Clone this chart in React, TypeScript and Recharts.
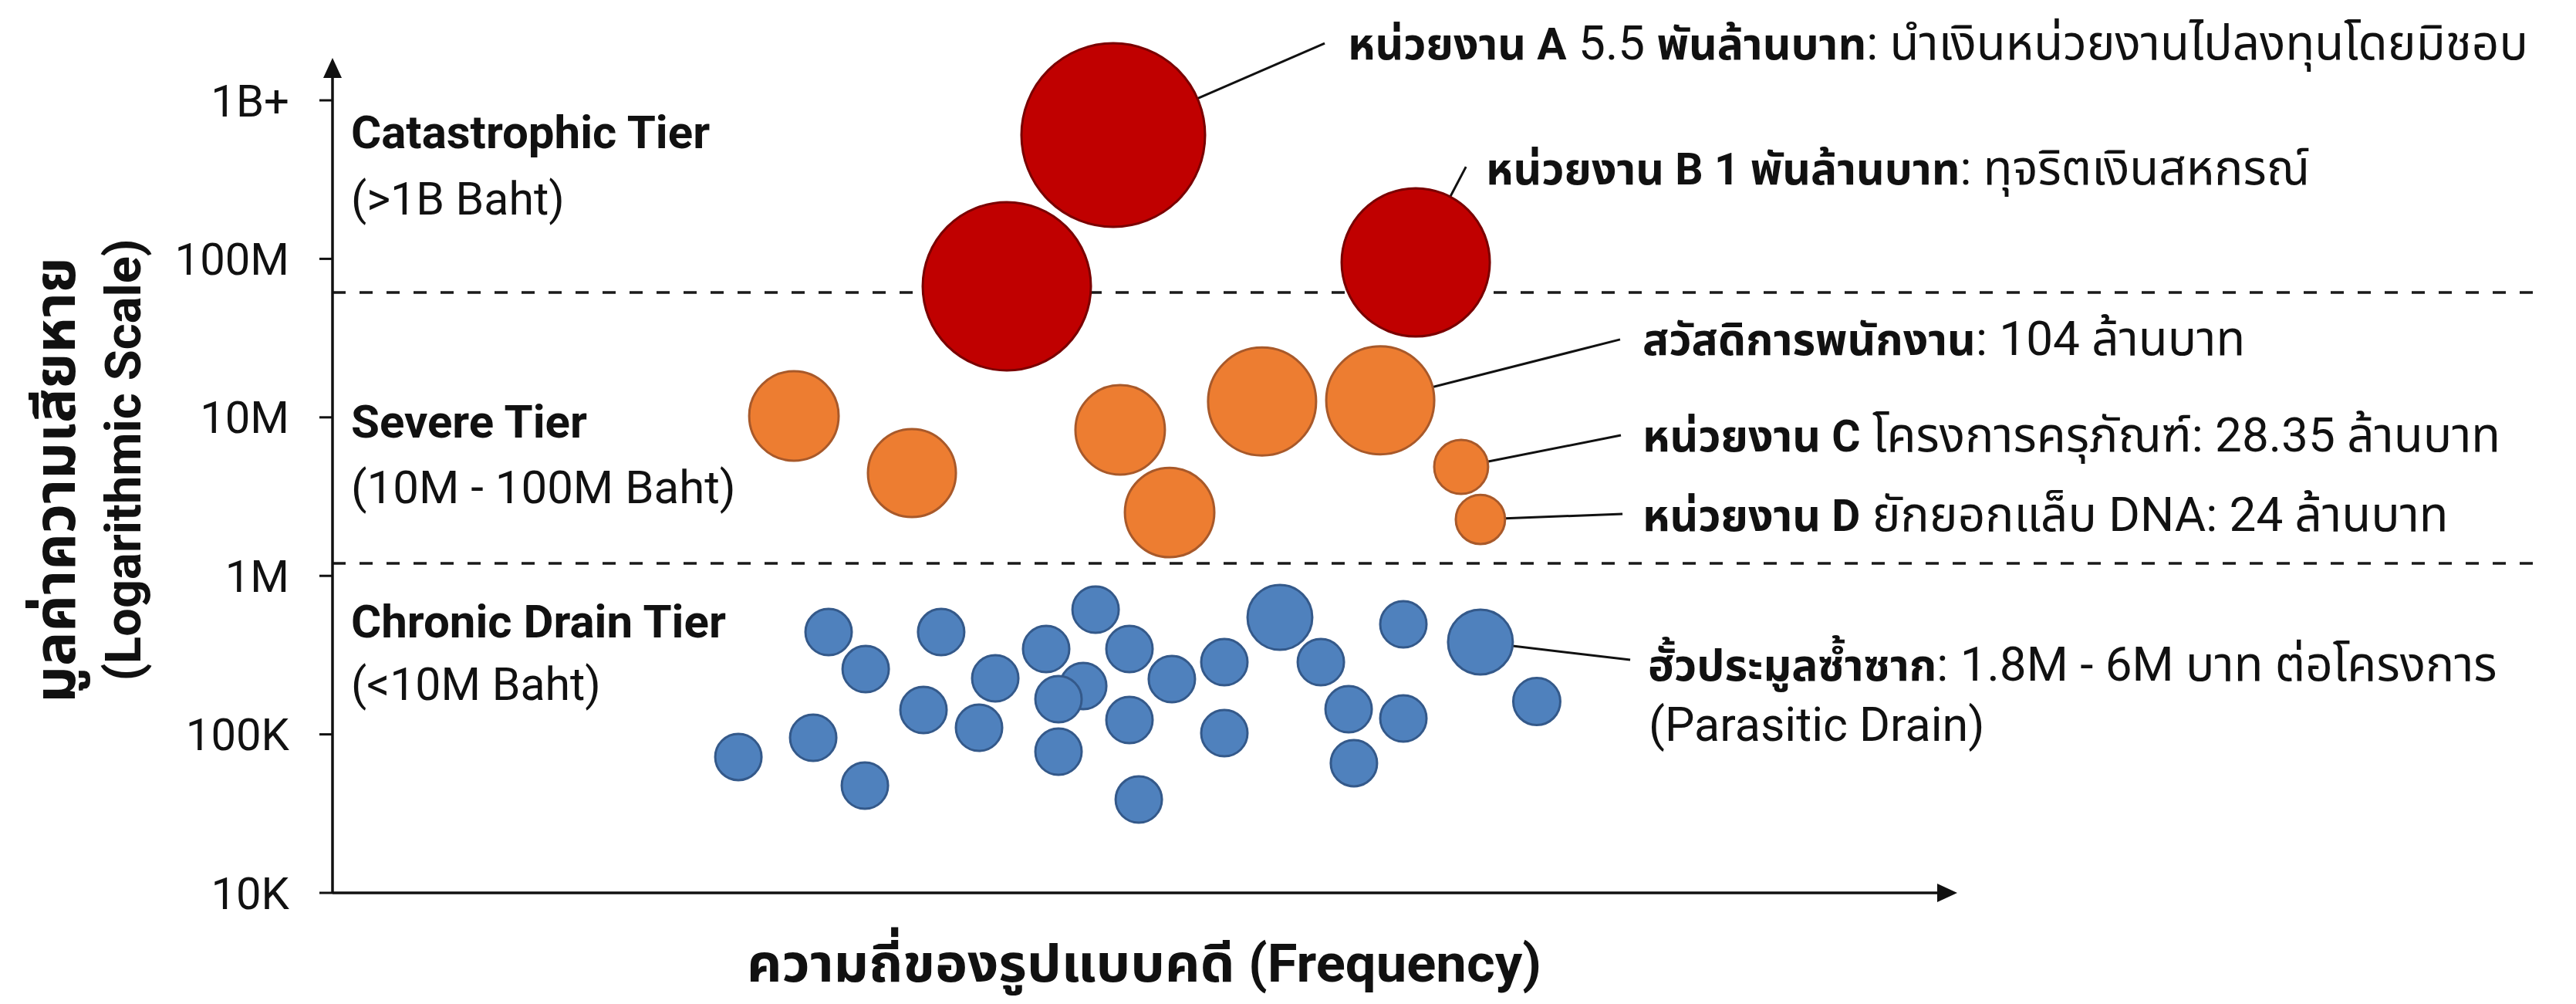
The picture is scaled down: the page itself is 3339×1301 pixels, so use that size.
import React from 'react';
import { ScatterChart, Scatter, XAxis, YAxis, ZAxis, ReferenceLine } from 'recharts';

const W = 3339;
const H = 1301;
const FONT = "Roboto, 'Noto Sans Thai', 'Noto Sans', sans-serif";
const INK = '#111111';

// x: relative case frequency (0-100), y: damage in baht (log scale), z: bubble weight
const catastrophicX = [42.0, 48.63, 67.47];
const catastrophicY = [67100000, 604000000, 95000000];
const catastrophicZ = [118.8, 141.6, 92.2];

const severeX = [28.74, 36.09, 49.06, 52.14, 57.9, 65.26, 70.3, 71.5];
const severeY = [10200000, 4450000, 8340000, 2510000, 12600000, 12800000, 4870000, 2270000];
const severeZ = [33.6, 32.5, 33.6, 33.6, 49, 49, 12.2, 10.2];

const chronicX = [
  25.28, 29.94, 30.9, 33.21, 33.16, 37.91, 36.81, 41.28, 40.27, 44.45, 46.76, 45.22, 45.22, 47.53,
  49.64, 49.64, 50.22, 52.28, 55.55, 55.55, 59.01, 61.56, 63.29, 63.62, 66.7, 66.7, 71.5, 75.01,
];
const chronicY = [
  72000, 95200, 442000, 258000, 47500, 442000, 142500, 225700, 110100, 345500, 201700, 166700, 77800,
  612000, 345500, 123200, 38800, 223200, 285600, 101800, 547000, 285600, 144100, 65800, 494700,
  126000, 382300, 161200,
];
const chronicZ = [
  9, 9, 9, 9, 9, 9, 9, 9, 9, 9, 9, 9, 9, 9, 9, 9, 9, 9, 9, 9, 17.6, 9, 9, 9, 9, 9, 17.6, 9.3,
];

const yTicks = [10000, 100000, 1000000, 10000000, 100000000, 1000000000];
const yTickLabels = ['10K', '100K', '1M', '10M', '100M', '1B+'];

// tier boundaries (baht)
const tierLines = [61400000, 1200000];

// leader lines: [bubble x, bubble y] -> [label x, label y]
const leaderFrom = [
  [48.63, 604000000],
  [67.47, 95000000],
  [65.26, 12800000],
  [70.3, 4870000],
  [71.5, 2270000],
  [71.5, 382300],
];
const leaderTo = [
  [61.8, 2290000000],
  [70.6, 381000000],
  [80.2, 31000000],
  [80.25, 7710000],
  [80.35, 2460000],
  [80.83, 295000],
];

const toPoints = (xs: number[], ys: number[], zs: number[]) =>
  xs.map((x, i) => ({ x, y: ys[i], z: zs[i] }));

const catastrophic = toPoints(catastrophicX, catastrophicY, catastrophicZ);
const severe = toPoints(severeX, severeY, severeZ);
const chronic = toPoints(chronicX, chronicY, chronicZ);

const bubble = (fill: string, stroke: string) => (props: any) => {
  const { cx, cy, width, size } = props;
  const r = width ? width / 2 : Math.sqrt((size || 0) / Math.PI);
  return <circle cx={cx} cy={cy} r={r} fill={fill} stroke={stroke} strokeWidth={3} />;
};

const Txt = ({ x, y, size = 62, bold = false, anchor = 'start', children }: any) => (
  <text
    x={x}
    y={y}
    fontSize={size}
    fontFamily={FONT}
    fontWeight={bold ? 700 : 400}
    textAnchor={anchor}
    fill={INK}
  >
    {children}
  </text>
);

const B = ({ children }: any) => (
  <tspan fontWeight={700} fontSize={57}>
    {children}
  </tspan>
);

export default function App() {
  return (
    <div style={{ position: 'absolute', left: 0, top: 0, width: W, height: H, background: '#fff' }}>
      <svg width={0} height={0} style={{ position: 'absolute' }}>
        <defs>
          <marker
            id="arrowHead"
            viewBox="0 0 26 24"
            refX={1}
            refY={12}
            markerWidth={26}
            markerHeight={24}
            markerUnits="userSpaceOnUse"
            orient="auto-start-reverse"
          >
            <path d="M0,0 L26,12 L0,24 z" fill={INK} />
          </marker>
        </defs>
      </svg>

      <ScatterChart width={W} height={H} margin={{ top: 100, right: 827, bottom: 143, left: 371 }}>
        <XAxis
          type="number"
          dataKey="x"
          domain={[0, 100]}
          tick={false}
          tickLine={false}
          height={1}
          axisLine={{ stroke: INK, strokeWidth: 3.5, markerEnd: 'url(#arrowHead)' }}
        />
        <YAxis
          type="number"
          dataKey="y"
          scale="log"
          domain={[10000, 1400000000]}
          ticks={yTicks}
          interval={0}
          tickFormatter={(v: number) => yTickLabels[yTicks.indexOf(v)] ?? ''}
          width={60}
          tickSize={17}
          tickMargin={39}
          tick={{ fill: INK, fontSize: 58, fontFamily: FONT }}
          tickLine={{ stroke: INK, strokeWidth: 3 }}
          axisLine={{ stroke: INK, strokeWidth: 3.5, markerStart: 'url(#arrowHead)' }}
        />
        <ZAxis type="number" dataKey="z" domain={[0, 200]} range={[0, 62832]} />

        {tierLines.map((v) => (
          <ReferenceLine
            key={v}
            segment={[
              { x: 0, y: v },
              { x: 137.5, y: v },
            ]}
            ifOverflow="visible"
            stroke="#1a1a1a"
            strokeWidth={3.5}
            strokeDasharray="17 18"
          />
        ))}
        {leaderFrom.map((p, i) => (
          <ReferenceLine
            key={'l' + i}
            segment={[
              { x: p[0], y: p[1] },
              { x: leaderTo[i][0], y: leaderTo[i][1] },
            ]}
            ifOverflow="visible"
            stroke={INK}
            strokeWidth={3}
          />
        ))}

        <Scatter data={chronic} shape={bubble('#4F81BD', '#34598A')} isAnimationActive={false} />
        <Scatter data={severe} shape={bubble('#ED7D31', '#A8592A')} isAnimationActive={false} />
        <Scatter data={catastrophic} shape={bubble('#C00000', '#7A0000')} isAnimationActive={false} />
      </ScatterChart>

      <svg
        width={W}
        height={H}
        style={{ position: 'absolute', left: 0, top: 0, pointerEvents: 'none' }}
      >
        {/* tier labels */}
        <Txt x={455} y={192} size={60} bold>Catastrophic Tier</Txt>
        <Txt x={455} y={278} size={59}>(&gt;1B Baht)</Txt>
        <Txt x={455} y={567} size={60} bold>Severe Tier</Txt>
        <Txt x={455} y={652} size={60}>(10M - 100M Baht)</Txt>
        <Txt x={455} y={826} size={60} bold>Chronic Drain Tier</Txt>
        <Txt x={455} y={907} size={59}>(&lt;10M Baht)</Txt>

        {/* annotations */}
        <Txt x={1747} y={77}>
          <B>หน่วยงาน A</B>
          <tspan> 5.5 </tspan>
          <B>พันล้านบาท</B>
          <tspan>: นำเงินหน่วยงานไปลงทุนโดยมิชอบ</tspan>
        </Txt>
        <Txt x={1926} y={239}>
          <B>หน่วยงาน B 1 พันล้านบาท</B>
          <tspan>: ทุจริตเงินสหกรณ์</tspan>
        </Txt>
        <Txt x={2129} y={460}>
          <B>สวัสดิการพนักงาน</B>
          <tspan>: 104 ล้านบาท</tspan>
        </Txt>
        <Txt x={2129} y={585}>
          <B>หน่วยงาน C</B>
          <tspan> โครงการครุภัณฑ์: 28.35 ล้านบาท</tspan>
        </Txt>
        <Txt x={2129} y={688}>
          <B>หน่วยงาน D</B>
          <tspan> ยักยอกแล็บ DNA: 24 ล้านบาท</tspan>
        </Txt>
        <Txt x={2136} y={882}>
          <B>ฮั้วประมูลซ้ำซาก</B>
          <tspan>: 1.8M - 6M บาท ต่อโครงการ</tspan>
        </Txt>
        <Txt x={2137} y={960} size={61}>(Parasitic Drain)</Txt>

        {/* axis titles */}
        <text
          transform="translate(97, 622) rotate(-90)"
          fontSize={74}
          fontFamily={FONT}
          fontWeight={700}
          textAnchor="middle"
          fill={INK}
        >
          มูลค่าความเสียหาย
        </text>
        <text
          transform="translate(182, 596) rotate(-90)"
          fontSize={65}
          fontFamily={FONT}
          fontWeight={700}
          textAnchor="middle"
          fill={INK}
        >
          (Logarithmic Scale)
        </text>
        <text
          x={1483}
          y={1272}
          fontSize={68}
          fontFamily={FONT}
          fontWeight={700}
          textAnchor="middle"
          textLength={1030}
          lengthAdjust="spacingAndGlyphs"
          fill={INK}
        >
          ความถี่ของรูปแบบคดี (Frequency)
        </text>
      </svg>
    </div>
  );
}
